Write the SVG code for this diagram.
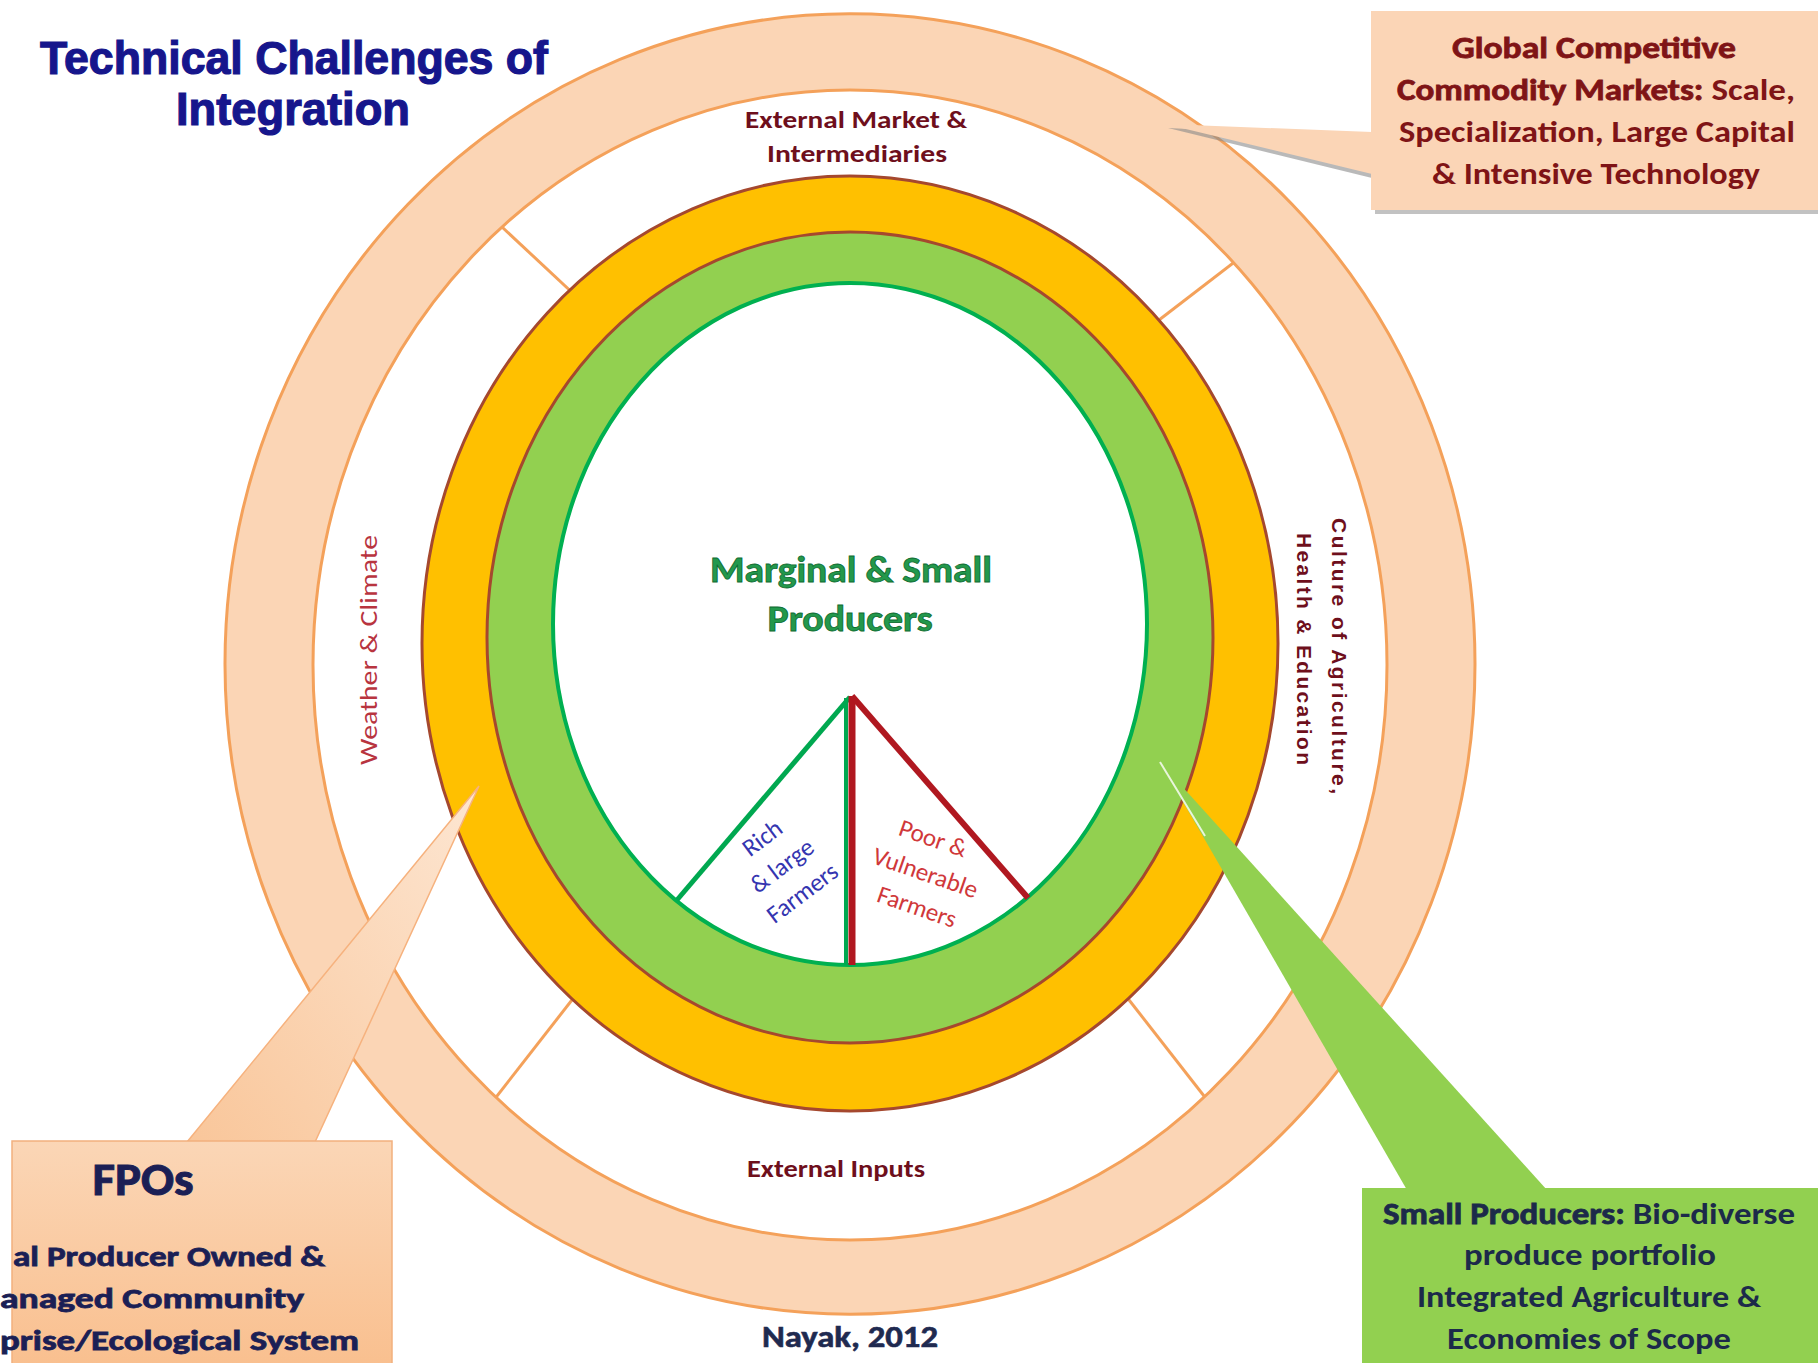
<svg xmlns="http://www.w3.org/2000/svg" width="1818" height="1363" viewBox="0 0 1818 1363">
<style>
.cal{font-family:Carlito,Lato,"Liberation Sans",sans-serif}
.b{font-weight:700}
.red{fill:#6E0F1C}
.navy{fill:#1B1F55}
.div{stroke:#F4A15A;stroke-width:3}
.heavy{stroke-width:0.8}
</style>
<defs>
<linearGradient id="fpoG" x1="0" y1="0" x2="0" y2="1">
<stop offset="0" stop-color="#FBD6B6"/>
<stop offset="1" stop-color="#F9BF8E"/>
</linearGradient>
<linearGradient id="wedgeG" x1="0" y1="1" x2="1" y2="0">
<stop offset="0" stop-color="#F9C69A"/>
<stop offset="1" stop-color="#FDE6D2"/>
</linearGradient>
</defs>
<rect width="1818" height="1363" fill="#FFFFFF"/>

<g id="title">
<text x="294" y="74" text-anchor="middle" font-family="'Liberation Sans',Arial,sans-serif" font-weight="700" font-size="46" fill="#16168C" stroke="#16168C" stroke-width="1.2" textLength="508" lengthAdjust="spacingAndGlyphs">Technical Challenges of</text>
<text x="293" y="125" text-anchor="middle" font-family="'Liberation Sans',Arial,sans-serif" font-weight="700" font-size="46" fill="#16168C" stroke="#16168C" stroke-width="1.2" textLength="234" lengthAdjust="spacingAndGlyphs">Integration</text>
</g>

<g id="connectors">
<line class="div" x1="472" y1="199" x2="593" y2="312"/>
<line class="div" x1="1267" y1="237" x2="1133" y2="340"/>
<line class="div" x1="472" y1="1128" x2="593" y2="973"/>
<line class="div" x1="1229" y1="1128" x2="1108" y2="973"/>
</g>

<g id="outer-ring">
<path d="M225,664 a625,650 0 1,0 1250,0 a625,650 0 1,0 -1250,0 Z M313,665 a537,575 0 1,0 1074,0 a537,575 0 1,0 -1074,0 Z" fill="#FBD5B5" fill-rule="evenodd" stroke="#F4A15A" stroke-width="3"/>
<text class="cal b red" x="856" y="128" text-anchor="middle" font-size="25" textLength="222" lengthAdjust="spacingAndGlyphs">External Market &amp;</text>
<text class="cal b red" x="857" y="162" text-anchor="middle" font-size="25" textLength="180" lengthAdjust="spacingAndGlyphs">Intermediaries</text>
<text class="cal b red" x="836" y="1177" text-anchor="middle" font-size="25" textLength="178" lengthAdjust="spacingAndGlyphs">External Inputs</text>
<text class="cal" transform="translate(377,650) rotate(-90)" x="0" y="0" text-anchor="middle" font-size="25" fill="#B8343F" textLength="230" lengthAdjust="spacingAndGlyphs">Weather &amp; Climate</text>
<g transform="translate(1332,656) rotate(90)" font-family="'Liberation Sans',Arial,sans-serif" font-weight="700" font-size="21" fill="#6E0F1C">
<text x="0" y="0" text-anchor="middle" textLength="276" lengthAdjust="spacing">Culture of Agriculture,</text>
<text x="-7" y="35" text-anchor="middle" textLength="232" lengthAdjust="spacing">Health &amp; Education</text>
</g>
</g>

<g id="orange-ring">
<ellipse cx="850" cy="643.5" rx="428" ry="467.5" fill="#FFC000" stroke="#A5482E" stroke-width="3"/>
</g>
<g id="green-ring">
<ellipse cx="850" cy="637.5" rx="363" ry="405.5" fill="#92D050" stroke="#A5482E" stroke-width="3"/>
</g>
<g id="core">
<ellipse cx="850" cy="624" rx="297" ry="341" fill="#FFFFFF" stroke="#00B050" stroke-width="4"/>
<text class="cal b heavy" x="851" y="582" text-anchor="middle" font-size="36" fill="#23984C" stroke="#0E6B30" textLength="282" lengthAdjust="spacingAndGlyphs">Marginal &amp; Small</text>
<text class="cal b heavy" x="850" y="631" text-anchor="middle" font-size="36" fill="#23984C" stroke="#0E6B30" textLength="165" lengthAdjust="spacingAndGlyphs">Producers</text>
</g>

<g id="triangle">
<line x1="850" y1="697" x2="677" y2="900" stroke="#00A850" stroke-width="5"/>
<line x1="846" y1="698" x2="846" y2="965" stroke="#00A850" stroke-width="4"/>
<line x1="852" y1="696" x2="852" y2="965" stroke="#B01820" stroke-width="7"/>
<line x1="852" y1="696" x2="1028" y2="898" stroke="#B01820" stroke-width="6"/>
<g transform="translate(782,866) rotate(-37)" class="cal" font-size="25" fill="#3535B0" text-anchor="middle">
<text x="1" y="-26">Rich</text>
<text x="0" y="8">&amp; large</text>
<text x="0" y="42">Farmers</text>
</g>
<g transform="translate(925,874) rotate(19)" class="cal" font-size="25" fill="#D0383A" text-anchor="middle">
<text x="-4" y="-28">Poor &amp;</text>
<text x="0" y="7">Vulnerable</text>
<text x="3" y="42">Farmers</text>
</g>
</g>

<g id="callout-global">
<rect x="1375" y="15" width="443" height="199" fill="#9A9A9A" opacity="0.6"/>
<polygon points="1168,128 1372,138 1372,178" fill="#8A8A8A" opacity="0.6"/>
<polygon points="1165,124 1372,132 1372,174" fill="#FBD5B6"/>
<rect x="1371" y="11" width="447" height="199" fill="#FBD5B6"/>
<g class="cal b" font-size="31" fill="#7F1416" text-anchor="middle">
<text class="heavy" stroke="#7F1416" x="1594" y="58" textLength="284" lengthAdjust="spacingAndGlyphs">Global Competitive</text>
<text x="1596" y="100" textLength="398" lengthAdjust="spacingAndGlyphs"><tspan class="heavy" stroke="#7F1416">Commodity Markets:</tspan> Scale,</text>
<text x="1597" y="142" textLength="396" lengthAdjust="spacingAndGlyphs">Specialization, Large Capital</text>
<text x="1596" y="184" textLength="328" lengthAdjust="spacingAndGlyphs">&amp; Intensive Technology</text>
</g>
</g>

<g id="callout-fpo">
<polygon points="187,1142 479,786 315,1142" fill="url(#wedgeG)" stroke="#F6B27E" stroke-width="1.5"/>
<rect x="12" y="1141" width="380" height="230" fill="url(#fpoG)" stroke="#F2B07E" stroke-width="1.5"/>
<g class="cal b navy" stroke="#1B1F55">
<text x="143" y="1195" text-anchor="middle" font-size="46" stroke-width="1" textLength="101" lengthAdjust="spacingAndGlyphs">FPOs</text>
<text x="13" y="1266" font-size="28" stroke-width="0.8" textLength="312" lengthAdjust="spacingAndGlyphs">al Producer Owned &amp;</text>
<text x="0" y="1308" font-size="28" stroke-width="0.8" textLength="304" lengthAdjust="spacingAndGlyphs">anaged  Community</text>
<text x="0" y="1350" font-size="28" stroke-width="0.8" textLength="359" lengthAdjust="spacingAndGlyphs">prise/Ecological  System</text>
</g>
</g>

<g id="callout-small">
<polygon points="1160,762 1407,1190 1547,1190" fill="#92D050"/>
<line x1="1160" y1="762" x2="1205" y2="836" stroke="#FFFFFF" stroke-width="2" opacity="0.8"/>
<rect x="1362" y="1188" width="456" height="175" fill="#92D050"/>
<g class="cal b" font-size="30" fill="#1C2A4A" text-anchor="middle">
<text x="1589" y="1224" textLength="412" lengthAdjust="spacingAndGlyphs"><tspan class="heavy" stroke="#1C2A4A">Small Producers:</tspan> Bio-diverse</text>
<text x="1590" y="1265" textLength="252" lengthAdjust="spacingAndGlyphs">produce portfolio</text>
<text x="1589" y="1307" textLength="344" lengthAdjust="spacingAndGlyphs">Integrated Agriculture &amp;</text>
<text x="1589" y="1349" textLength="284" lengthAdjust="spacingAndGlyphs">Economies of Scope</text>
</g>
</g>

<g id="credit">
<text class="cal b" x="850" y="1347" text-anchor="middle" font-size="30" fill="#1F2A50" stroke="#1F2A50" stroke-width="0.6" textLength="176" lengthAdjust="spacingAndGlyphs">Nayak, 2012</text>
</g>
</svg>
